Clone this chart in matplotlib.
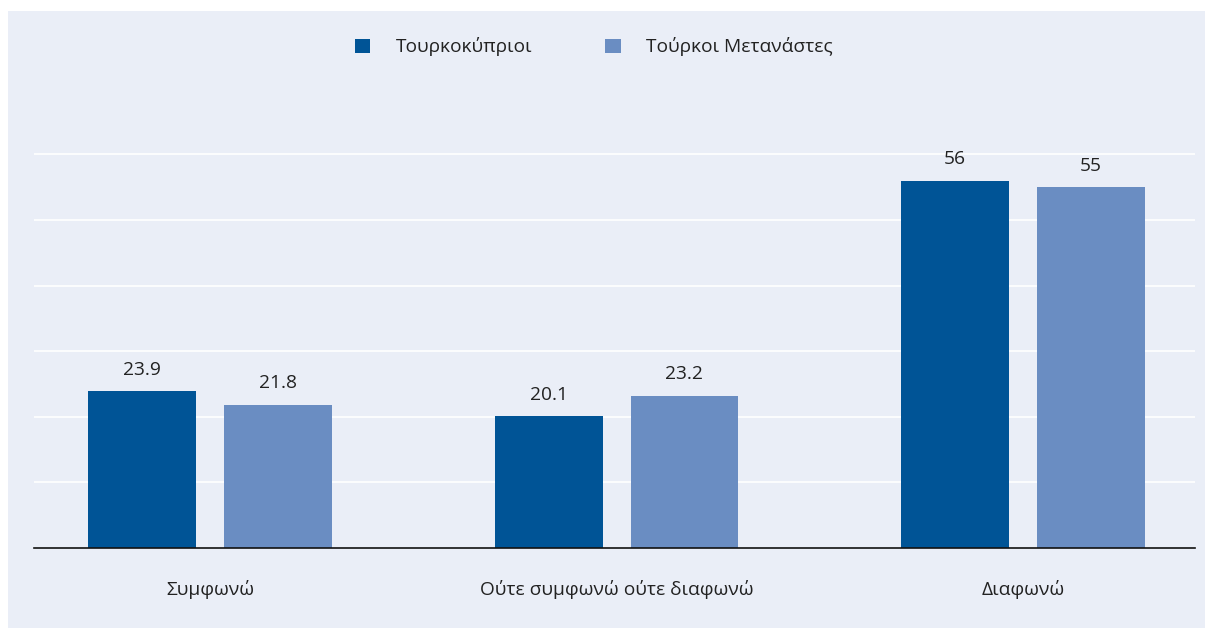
import matplotlib
matplotlib.use("Agg")
import matplotlib.pyplot as plt
from matplotlib.patches import Rectangle
import numpy as np

categories = ["Συμφωνώ", "Ούτε συμφωνώ ούτε διαφωνώ", "Διαφωνώ"]
series_names = ["Τουρκοκύπριοι", "Τούρκοι Μετανάστες"]
turkish_cypriots = [23.9, 20.1, 56]
turkish_migrants = [21.8, 23.2, 55]
value_labels_tc = ["23.9", "20.1", "56"]
value_labels_tm = ["21.8", "23.2", "55"]
yticks = [10, 20, 30, 40, 50, 60]

dark = "#005496"
light = "#6A8DC2"
panel = "#EAEEF7"
text_color = "#222222"
FS = 13.8

plt.rcParams['font.family'] = ['Open Sans', 'DejaVu Sans']

W, H = 1205, 628
fig = plt.figure(figsize=(W / 100, H / 100), dpi=100, facecolor="white")
fig.patches.append(Rectangle((8 / W, 0), 1 - 8 / W, 1 - 11 / H, transform=fig.transFigure,
                             facecolor=panel, edgecolor="none", zorder=-10))

ax_left, ax_right = 34 / W, 1195 / W
ax_bottom = 1 - 548 / H
ax_top = 1 - 115 / H
ax = fig.add_axes([ax_left, ax_bottom, ax_right - ax_left, ax_top - ax_bottom])
ax.set_facecolor("none")
ax.set_zorder(2)

x = np.arange(len(categories))
off = 0.167
w = 0.265
b1 = ax.bar(x - off, turkish_cypriots, width=w, color=dark, zorder=3, label=series_names[0])
b2 = ax.bar(x + off, turkish_migrants, width=w, color=light, zorder=3, label=series_names[1])

for rect, lab in zip(list(b1) + list(b2), value_labels_tc + value_labels_tm):
    ax.annotate(lab, (rect.get_x() + rect.get_width() / 2, rect.get_height()),
                xytext=(0, 9), textcoords="offset points", ha="center", va="bottom",
                fontsize=FS, color=text_color, annotation_clip=False)

ax.set_xlim(-0.433, 2.423)
ax.set_ylim(0, 66)
ax.set_yticks(yticks)
ax.yaxis.grid(True, color="white", linewidth=1.2, zorder=1)
ax.set_axisbelow(True)
ax.tick_params(axis="y", left=False, labelleft=False)
ax.set_xticks(x)
ax.set_xticklabels(categories, fontsize=FS, color=text_color)
ax.tick_params(axis="x", length=0, pad=23)
for s in ["top", "right", "left"]:
    ax.spines[s].set_visible(False)
ax.spines["bottom"].set_color("#111111")
ax.spines["bottom"].set_linewidth(1.2)
ax.spines["bottom"].set_zorder(4)

leg = fig.legend(handles=[b1, b2], labels=series_names, loc="center",
                 bbox_to_anchor=(594 / W, 1 - 47 / H), ncol=2, frameon=False,
                 fontsize=FS, handlelength=0.8, handleheight=0.8,
                 handletextpad=1.35, columnspacing=3.8, labelcolor=text_color)

fig.savefig("out.png", dpi=100, facecolor="white")
